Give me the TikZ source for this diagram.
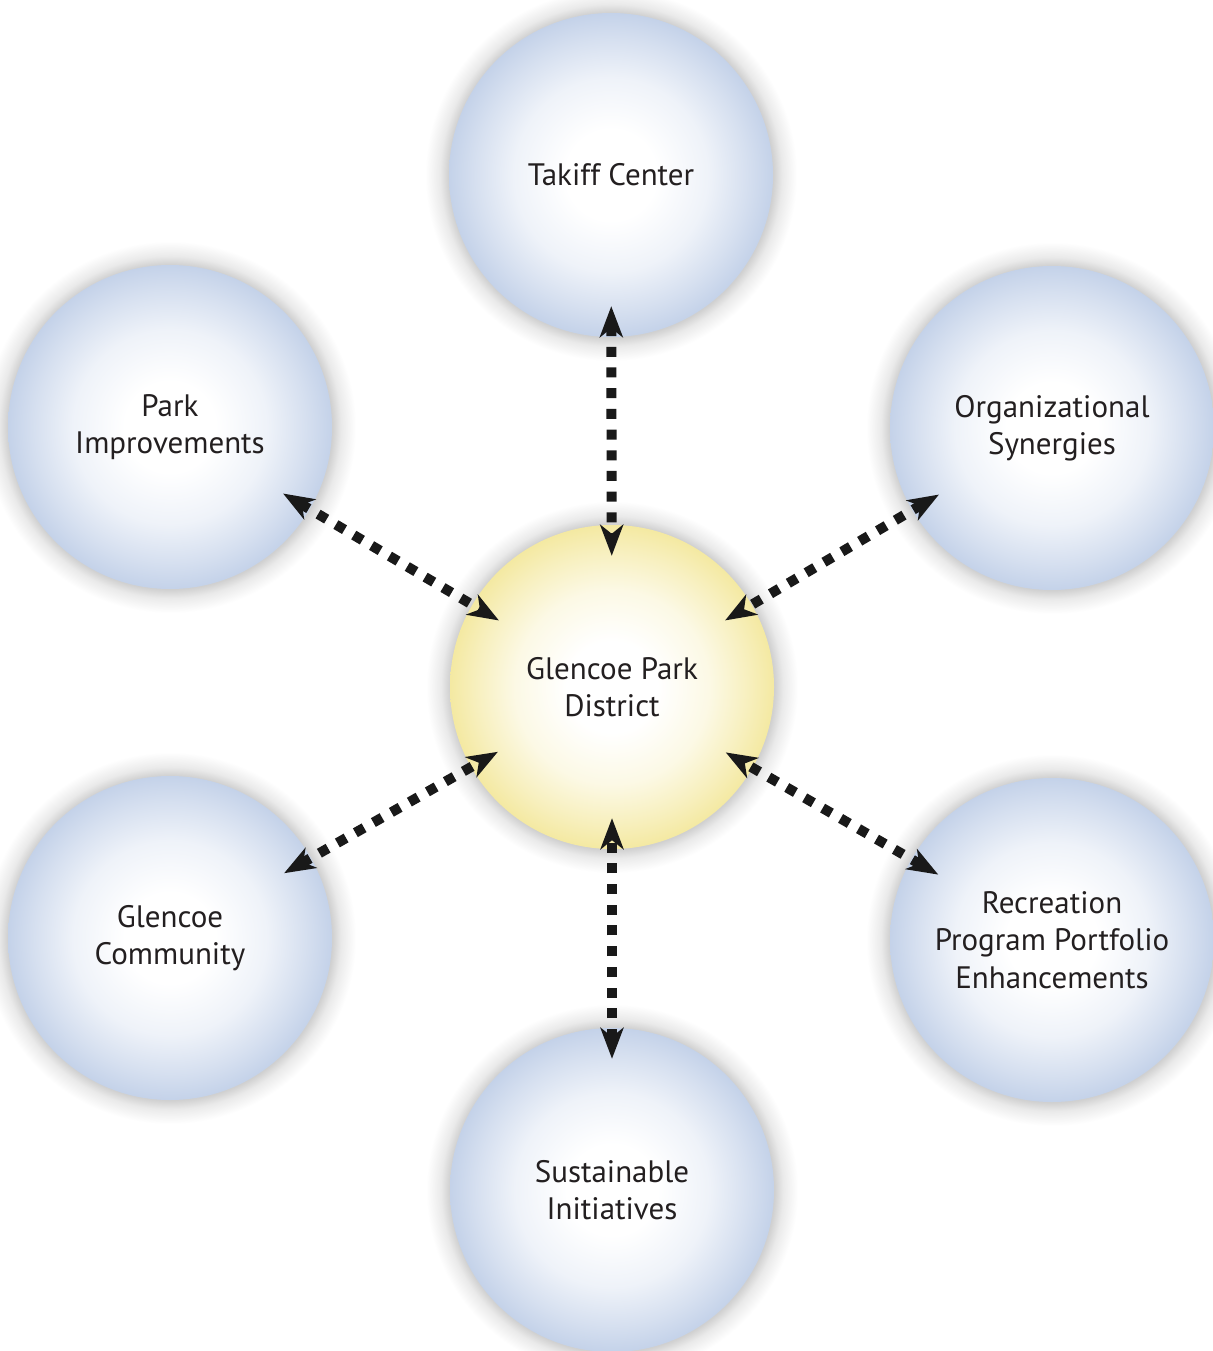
\documentclass[tikz,border=0pt]{standalone}
\usepackage{fontspec}
\setmainfont{PT Sans}
\usetikzlibrary{arrows.meta,backgrounds}
\definecolor{ballblue}{RGB}{196,210,233}
\definecolor{ballyellow}{RGB}{244,233,162}
\definecolor{glowgray}{RGB}{208,208,208}
\definecolor{txt}{RGB}{35,31,32}
\pgfdeclareradialshading{blueball}{\pgfpoint{0bp}{0bp}}{%
  color(0bp)=(white); color(7bp)=(white); color(15bp)=(ballblue!28!white);
  color(21bp)=(ballblue!70!white); color(25bp)=(ballblue); color(50bp)=(ballblue)}
\pgfdeclareradialshading{yellowball}{\pgfpoint{0bp}{0bp}}{%
  color(0bp)=(white); color(7bp)=(white); color(15bp)=(ballyellow!28!white);
  color(21bp)=(ballyellow!70!white); color(25bp)=(ballyellow); color(50bp)=(ballyellow)}
\pgfdeclareradialshading{glow}{\pgfpoint{0bp}{0bp}}{%
  color(0bp)=(glowgray); color(21.8bp)=(glowgray); color(23bp)=(glowgray!45!white);
  color(25bp)=(white); color(50bp)=(white)}
\tikzset{
  ball/.style={circle, minimum size=324pt, inner sep=0pt, align=center,
    shading=blueball, text=txt, font=\fontsize{31}{37.5}\selectfont},
  hub/.style={ball, shading=yellowball},
  link/.style={line width=10pt, dash pattern=on 10pt off 10.7pt, black!90,
    {Stealth[length=31pt,width=23pt,inset=9pt]}-{Stealth[length=31pt,width=23pt,inset=9pt]},
    shorten <=-31pt, shorten >=-31pt}
}
\begin{document}
\begin{tikzpicture}[x=1pt,y=-1pt]
\useasboundingbox (0,0) rectangle (1212,1351);
\node[ball] (tak) at (611,175) {Takiff Center};
\node[ball] (park) at (170,427) {Park\\Improvements};
\node[ball] (org) at (1052,428) {Organizational\\Synergies};
\node[hub]  (ctr) at (612,687) {Glencoe Park\\District};
\node[ball] (com) at (170,938) {Glencoe\\Community};
\node[ball] (rec) at (1052,940) {Recreation\\Program Portfolio\\Enhancements};
\node[ball] (sus) at (612,1190) {Sustainable\\Initiatives};
\begin{scope}[on background layer]
  \fill[white] (0,0) rectangle (1212,1351);
  \foreach \n in {tak,park,org,ctr,com,rec,sus}
    \shade[shading=glow] (\n.center) circle (186pt);
\end{scope}
\draw[link] (tak) -- (ctr);
\draw[link] (park) -- (ctr);
\draw[link] (org) -- (ctr);
\draw[link] (com) -- (ctr);
\draw[link] (rec) -- (ctr);
\draw[link] (sus) -- (ctr);
\end{tikzpicture}
\end{document}
